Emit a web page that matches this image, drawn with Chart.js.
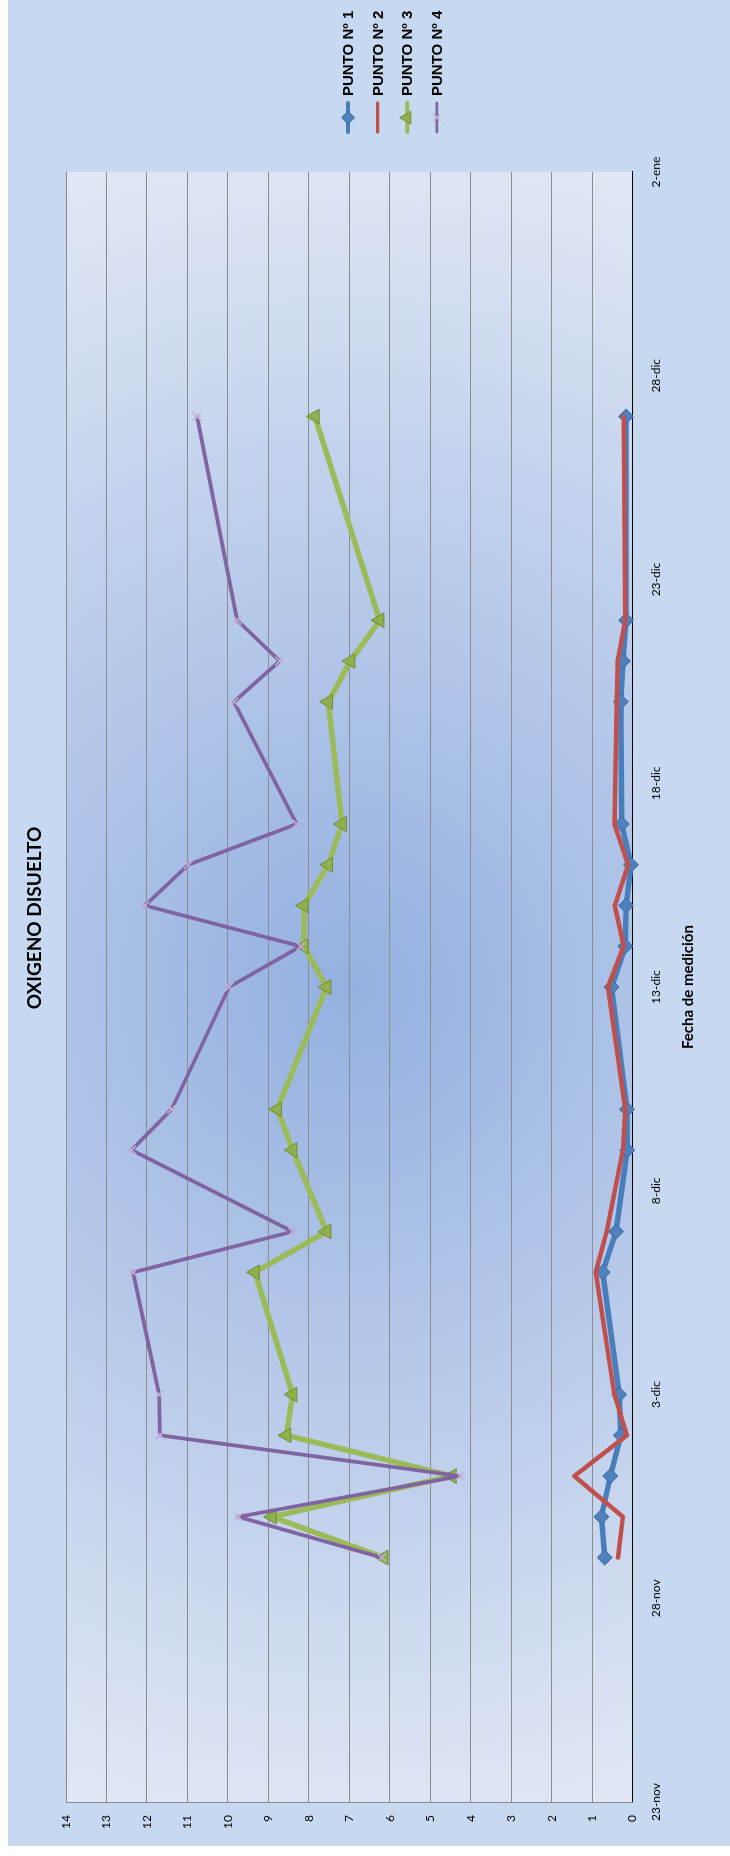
<!DOCTYPE html>
<html lang="es">
<head>
<meta charset="utf-8">
<title>Oxígeno disuelto</title>
<script src="https://cdn.jsdelivr.net/npm/chart.js@4.4.1/dist/chart.umd.min.js"></script>
<style>
  html, body { margin: 0; padding: 0; background: #fff; overflow: hidden; }
  /* el gráfico se dibuja apaisado y se gira 90° a la izquierda */
  #giro {
    position: absolute; left: 0; top: 0;
    width: 1856px; height: 730px;
    background: #fff;
    transform-origin: 0 0;
    transform: translateY(1856px) rotate(-90deg);
  }
  #grafico { position: absolute; left: 10px; top: 8px; width: 1846px; height: 722px; background: #c6d9f1; }
</style>
</head>
<body>
<div id="giro"><canvas id="grafico" width="1846" height="722"></canvas></div>
<script>
// fechas de muestreo
const fechas = ['29-nov', '30-nov', '1-dic', '2-dic', '3-dic', '6-dic', '7-dic', '9-dic', '10-dic',
                '13-dic', '14-dic', '15-dic', '16-dic', '17-dic', '20-dic', '21-dic', '22-dic', '27-dic'];

// oxígeno disuelto (mg/l) en cada punto
const punto1 = [0.69, 0.77, 0.55, 0.29, 0.33, 0.74, 0.41, 0.13, 0.14, 0.52, 0.18, 0.16, 0.04, 0.27, 0.29, 0.24, 0.16, 0.16];
const punto2 = [0.36, 0.24, 1.44, 0.14, 0.45, 0.91, 0.64, 0.24, 0.18, 0.61, 0.22, 0.44, 0.11, 0.45, 0.39, 0.37, 0.18, 0.22];
const punto3 = [6.15, 8.91, 4.46, 8.55, 8.40, 9.33, 7.56, 8.40, 8.78, 7.56, 8.12, 8.12, 7.52, 7.18, 7.52, 6.97, 6.25, 7.85];
const punto4 = [6.20, 9.74, 4.26, 11.68, 11.70, 12.34, 8.40, 12.38, 11.39, 9.97, 8.20, 12.05, 10.98, 8.30, 9.85, 8.72, 9.77, 10.76];

// eje de fechas (cada 5 días) y eje de valores
const etiquetasFecha = ['23-nov', '28-nov', '3-dic', '8-dic', '13-dic', '18-dic', '23-dic', '28-dic', '2-ene'];
const valorMin = 0;
const valorMax = 14;

const titulo = 'OXIGENO DISUELTO';

// 'ene' cae en el año siguiente: Date.UTC lo resuelve con el mes 12
const MESES = { nov: 10, dic: 11, ene: 12 };
function numeroDia(f) {
  const [d, m] = f.split('-');
  return Date.UTC(2000, MESES[m], +d) / 864e5;
}
const dia0 = numeroDia(etiquetasFecha[0]);
const diaFin = numeroDia(etiquetasFecha[etiquetasFecha.length - 1]) - dia0;

function serie(valores) {
  return valores.map((v, i) => ({ x: numeroDia(fechas[i]) - dia0, y: v }));
}

function etiquetaDe(v) {
  const i = etiquetasFecha.findIndex(f => numeroDia(f) - dia0 === v);
  return i < 0 ? '' : etiquetasFecha[i];
}

// degradado radial del área de trazado
const fondoArea = {
  id: 'fondoArea',
  beforeDraw(chart) {
    const { ctx, chartArea: a } = chart;
    const cx = (a.left + a.right) / 2, cy = (a.top + a.bottom) / 2;
    const r = Math.hypot(a.width / 2, a.height / 2);
    const g = ctx.createRadialGradient(cx, cy, 0, cx, cy, r);
    g.addColorStop(0, '#93b0e0');
    g.addColorStop(1, '#e1e8f5');
    ctx.save();
    ctx.fillStyle = g;
    ctx.fillRect(a.left, a.top, a.width, a.height);
    ctx.restore();
  }
};

function marcador(ctx, ds, x, y, r) {
  ctx.save();
  ctx.fillStyle = ds.pointBackgroundColor;
  ctx.strokeStyle = ds.pointBorderColor;
  ctx.lineWidth = ds.pointBorderWidth;
  ctx.beginPath();
  if (ds.pointStyle === 'rectRot') {
    ctx.moveTo(x - r, y); ctx.lineTo(x, y - r); ctx.lineTo(x + r, y); ctx.lineTo(x, y + r);
    ctx.closePath(); ctx.fill(); ctx.stroke();
  } else if (ds.pointStyle === 'triangle') {
    const w = r * Math.sqrt(3) / 2;
    ctx.moveTo(x, y - r); ctx.lineTo(x + w, y + r / 2); ctx.lineTo(x - w, y + r / 2);
    ctx.closePath(); ctx.fill(); ctx.stroke();
  } else if (ds.pointStyle === 'crossRot') {
    const d = r * Math.SQRT1_2;
    ctx.moveTo(x - d, y - d); ctx.lineTo(x + d, y + d);
    ctx.moveTo(x + d, y - d); ctx.lineTo(x - d, y + d);
    ctx.stroke();
  }
  ctx.restore();
}

// título arriba y leyenda a la derecha del área de trazado
const rotulos = {
  id: 'rotulos',
  afterDraw(chart) {
    const { ctx, chartArea } = chart;
    ctx.save();
    ctx.fillStyle = '#000';
    ctx.textBaseline = 'middle';
    ctx.textAlign = 'center';
    ctx.font = 'bold 19px Lato, "Noto Sans", sans-serif';
    ctx.fillText(titulo, chart.width / 2 + 5, 27);

    const x0 = chartArea.right + 40;
    let y = chart.height / 2 - 21;
    ctx.font = 'bold 15px "Liberation Sans", Arial, sans-serif';
    ctx.textAlign = 'left';
    chart.data.datasets.forEach(ds => {
      ctx.strokeStyle = ds.borderColor;
      ctx.lineWidth = ds.borderWidth * 0.75;
      ctx.lineCap = 'round';
      ctx.beginPath();
      ctx.moveTo(x0, y);
      ctx.lineTo(x0 + 29, y);
      ctx.stroke();
      if (ds.pointRadius > 0) marcador(ctx, ds, x0 + 14.5, y, ds.pointRadius * 0.85);
      ctx.fillStyle = '#000';
      ctx.fillText(ds.label, x0 + 36, y + 1);
      y += 29.6;
    });
    ctx.restore();
  }
};

const fuenteEje = { family: 'Lato, "Noto Sans", sans-serif', size: 12 };

new Chart(document.getElementById('grafico'), {
  type: 'line',
  data: {
    datasets: [
      {
        label: 'PUNTO Nº 1', data: serie(punto1), order: 4,
        borderColor: '#4a7ebb', borderWidth: 5.5,
        pointStyle: 'rectRot', pointRadius: 7.5,
        pointBackgroundColor: '#4f81bd', pointBorderColor: '#3a679e', pointBorderWidth: 1
      },
      {
        label: 'PUNTO Nº 2', data: serie(punto2), order: 3,
        borderColor: '#c0504d', borderWidth: 4.5,
        pointRadius: 0
      },
      {
        label: 'PUNTO Nº 3', data: serie(punto3), order: 2,
        borderColor: '#9bbb59', borderWidth: 5.5,
        pointStyle: 'triangle', pointRadius: 8.5,
        pointBackgroundColor: '#8fb04c', pointBorderColor: '#6f8c35', pointBorderWidth: 1
      },
      {
        label: 'PUNTO Nº 4', data: serie(punto4), order: 1,
        borderColor: '#8064a2', borderWidth: 3.75,
        pointStyle: 'crossRot', pointRadius: 6,
        pointBackgroundColor: '#c3b3d9', pointBorderColor: '#c3b3d9', pointBorderWidth: 1.5
      }
    ]
  },
  options: {
    responsive: false,
    animation: false,
    devicePixelRatio: 1,
    events: [],
    // arriba queda sitio para el título y a la derecha para la leyenda
    layout: { padding: { left: 4, right: 172, top: 58, bottom: 33 } },
    datasets: { line: { clip: false } },
    elements: { line: { tension: 0, borderJoinStyle: 'round', borderCapStyle: 'round' } },
    plugins: {
      legend: { display: false },
      tooltip: { enabled: false },
      title: { display: false }
    },
    scales: {
      x: {
        type: 'linear',
        min: 0,
        max: diaFin,
        grid: { display: false, drawTicks: false },
        border: { display: true, color: '#000', width: 1 },
        ticks: {
          stepSize: 5, padding: 16, maxRotation: 0, autoSkip: false,
          color: '#000', font: fuenteEje,
          callback: v => etiquetaDe(v)
        },
        title: {
          display: true,
          text: 'Fecha de medición',
          color: '#000',
          font: { family: 'Lato, "Noto Sans", sans-serif', size: 15, weight: 'bold' },
          padding: { top: 0, bottom: 0 }
        }
      },
      y: {
        min: valorMin,
        max: valorMax,
        grid: {
          drawTicks: false,
          lineWidth: 1,
          color: c => (c.tick && c.tick.value === valorMin ? 'rgba(0,0,0,0)' : '#8c8c8c')
        },
        border: { color: '#8c8c8c', width: 1 },
        ticks: { stepSize: 1, padding: 13, color: '#000', font: fuenteEje }
      }
    }
  },
  plugins: [fondoArea, rotulos]
});
</script>
</body>
</html>
